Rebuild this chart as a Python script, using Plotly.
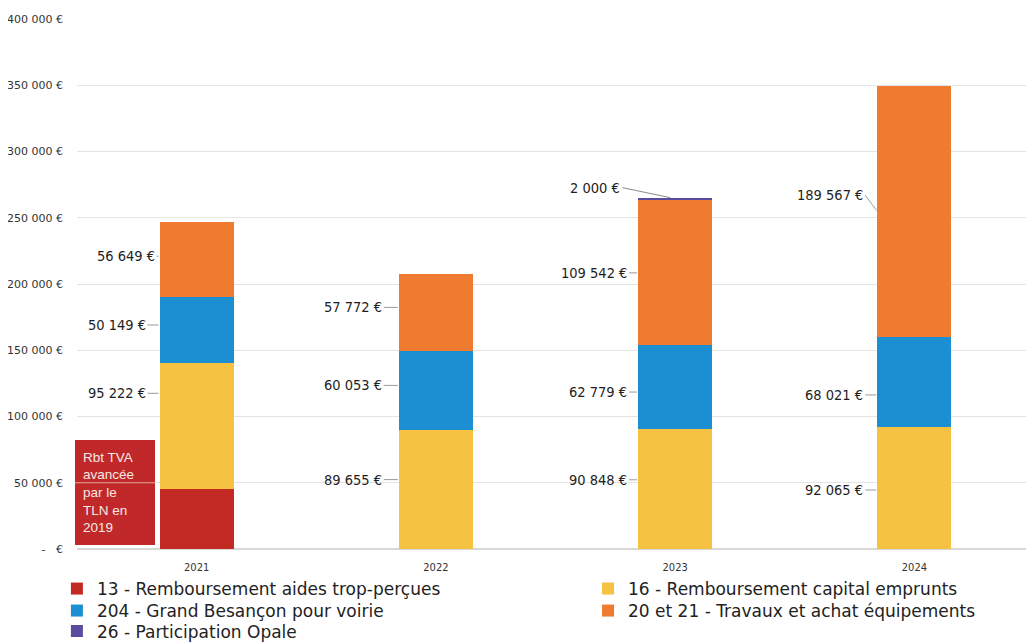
import plotly.graph_objects as go

years = ["2021", "2022", "2023", "2024"]
s13 = [45000, 0, 0, 0]
s16 = [95222, 89655, 90848, 92065]
s204 = [50149, 60053, 62779, 68021]
s2021 = [56649, 57772, 109542, 189567]
s26 = [0, 0, 2000, 0]

names = ["13 - Remboursement aides trop-perçues",
         "16 - Remboursement capital emprunts",
         "204 - Grand Besançon pour voirie",
         "20 et 21 - Travaux et achat équipements",
         "26 - Participation Opale"]
colors = ["#c42a24", "#f5c242", "#1c8fd3", "#ee7b2f", "#5b4b9e"]
series = [s13, s16, s204, s2021, s26]
legend_ids = ["legend", "legend2", "legend3", "legend4", "legend5"]

tickvals = [0, 50000, 100000, 150000, 200000, 250000, 300000, 350000, 400000]
ticktext = ["-   €", "50 000 €", "100 000 €", "150 000 €", "200 000 €",
            "250 000 €", "300 000 €", "350 000 €", "400 000 €"]

def fmt(v):
    return f"{v:,}".replace(",", " ") + " €"

fig = go.Figure()
for n, c, s, lg in zip(names, colors, series, legend_ids):
    fig.add_trace(go.Bar(x=years, y=s, name=n, marker_color=c,
                         marker_line_width=0, legend=lg))

half = 0.155
lblfont = dict(size=14.5, color="#1e1e1e", family="DejaVu Sans Condensed")
ann = []
# (ax, ay, yshift) pixel offsets of each label relative to its segment
offs = {
    1: [(-12, 0, 33), (-15, 0, 10), (-9, 0, 9), (-12, 0, -2)],
    2: [(-12, 0, 5), (-15, 0, 5), (-9, 0, -5), (-12, 0, -13)],
    3: [(-3, 0, 3), (-15, 0, 5), (-9, 0, 0), (-12, -16, 0)],
}
for i, y in enumerate(years):
    base = 0
    for k, s in enumerate(series):
        v = s[i]
        if v == 0:
            continue
        mid = base + v / 2
        base += v
        if k == 0:
            continue
        if k == 4:
            ann.append(dict(x=i - 0.02, y=base, xref="x", yref="y",
                            text=fmt(v), showarrow=True, arrowhead=0,
                            arrowwidth=1, arrowcolor="#8a8a8a",
                            ax=-48, ay=-10, xanchor="right", font=lblfont))
            continue
        ax, ay, ys = offs[k][i]
        ann.append(dict(x=i - half, y=mid, xref="x", yref="y",
                        text=fmt(v), showarrow=True, arrowhead=0,
                        arrowwidth=1, arrowcolor="#9a9a9a", standoff=1,
                        ax=ax, ay=ay, yshift=ys, xanchor="right",
                        font=lblfont))

# note box: red rectangle, gridline crossing it, white text on top
ann.append(dict(x=0.04, y=43000, xref="paper", yref="y", xanchor="center",
                yanchor="middle",
                text="Rbt TVA<br>avancée<br>par le<br>TLN en<br>2019",
                showarrow=False, align="left",
                width=64, height=89, borderpad=8,
                font=dict(size=13.5, color="#f6e8e2", family="Liberation Sans")))

shapes = [
    dict(type="rect", xref="paper", yref="paper", x0=-0.0021, x1=0.0815,
         y0=0.0075, y1=0.2056, layer="above", fillcolor="#c0282a",
         line=dict(width=0)),
    dict(type="line", xref="paper", yref="y", x0=-0.0021, x1=0.0815,
         y0=tickvals[1], y1=tickvals[1], layer="above",
         line=dict(color="#e2aaa0", width=1)),
]

legfont = dict(size=17, color="#222", family="DejaVu Sans")
# legend placement (paper x, container y)
leg_x = [-0.021, 0.534, -0.021, 0.534, -0.021]
leg_y = [0.0836, 0.0836, 0.0489, 0.0489, 0.0165]
legends = {}
for lg, lx, ly in zip(legend_ids, leg_x, leg_y):
    legends[lg] = dict(orientation="v", x=lx, xanchor="left", y=ly,
                       yref="container", yanchor="middle", itemwidth=30,
                       bgcolor="rgba(0,0,0,0)", font=legfont)

fig.update_layout(
    width=1026, height=634,
    margin=dict(l=69, r=0, t=11, b=93),
    plot_bgcolor="white", paper_bgcolor="white",
    barmode="stack", bargap=0.69,
    showlegend=True,
    annotations=ann,
    shapes=shapes,
    font=dict(family="DejaVu Sans Condensed"),
    **legends,
)
fig.update_xaxes(showgrid=False, showline=False, ticks="", automargin=False,
                 range=[-0.5, 3.5], ticklabelstandoff=10,
                 tickfont=dict(size=11, color="#333"))
fig.update_yaxes(range=[0, 400000], tickvals=tickvals, ticktext=ticktext,
                 showgrid=True, gridcolor="#e4e4e4", zeroline=True,
                 automargin=False,
                 zerolinecolor="#d8d8d8", ticklabelstandoff=13,
                 tickfont=dict(size=11, color="#333", family="DejaVu Sans"))

fig.write_html("out.html")
